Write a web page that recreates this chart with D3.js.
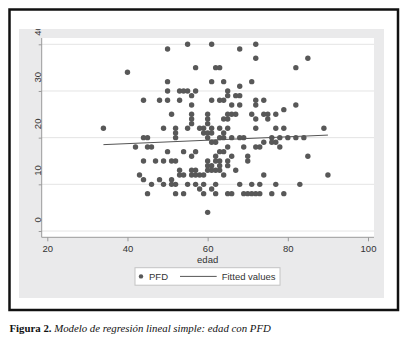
<!DOCTYPE html>
<html>
<head>
<meta charset="utf-8">
<script src="https://cdn.jsdelivr.net/npm/d3@7"></script>
<style>
  body { margin: 0; background: #fff; }
  svg { display: block; font-family: "Liberation Sans", Arial, sans-serif; }
  .tick text { fill: #333; }
</style>
</head>
<body>
<svg id="chart" width="405" height="338"></svg>
<script>
// PFD values, one entry per point, grouped by row
const pfd = [
  40, 40, 40,
  39, 39,
  37, 37,
  35, 35, 35, 35,
  34,
  32, 32, 32, 32,
  31,
  30, 30, 30, 30, 30, 30,
  29, 29, 29, 29,
  28, 28, 28, 28, 28, 28, 28, 28, 28,
  27, 27, 27, 27, 27,
  26,
  25, 25, 25, 25, 25, 25, 25, 25, 25, 25,
  24, 24, 24, 24, 24, 24,
  23, 23,
  22, 22, 22, 22, 22, 22, 22, 22, 22, 22, 22, 22, 22,
  21, 21, 21, 21, 21,
  20, 20, 20, 20, 20, 20, 20, 20, 20, 20, 20, 20, 20, 20,
  19, 19, 19, 19, 19,
  18, 18, 18, 18, 18, 18, 18, 18,
  17, 17, 17, 17, 17,
  16, 16, 16, 16, 16,
  15, 15, 15, 15, 15, 15, 15, 15, 15, 15,
  14, 14, 14, 14,
  13, 13, 13, 13, 13, 13, 13, 13,
  12, 12, 12, 12, 12, 12, 12, 12, 12, 12,
  11, 11, 11,
  10, 10, 10, 10, 10, 10, 10, 10, 10, 10, 10, 10, 10,
  9, 9,
  8, 8, 8, 8, 8, 8, 8, 8, 8, 8, 8, 8, 8, 8,
  4
];
// edad of each point, same order as pfd
const edad = [
  55, 61, 72,
  50, 68,
  72, 85,
  57, 62, 63, 82,
  40,
  50, 61, 64, 71,
  68,
  50, 53, 54, 55, 57, 65,
  56, 65, 67, 68,
  44, 48, 50, 53, 61, 63, 64, 72, 74,
  56, 66, 68, 72, 82,
  79,
  51, 56, 60, 65, 66, 67, 71, 74, 75, 77,
  56, 60, 64, 65, 72, 75,
  56, 60,
  34, 49, 52, 55, 58, 59, 61, 63, 65, 72, 77, 79, 89,
  52, 59, 60, 61, 64,
  44, 45, 52, 60, 63, 64, 66, 68, 69, 76, 78, 80, 82, 84,
  61, 62, 74, 76, 77,
  42, 45, 46, 65, 69, 72, 73, 78,
  50, 54, 57, 63, 64,
  56, 62, 66, 70, 85,
  44, 47, 49, 51, 52, 60, 62, 63, 65, 70,
  60, 61, 63, 65,
  53, 56, 57, 60, 61, 62, 63, 67,
  43, 53, 54, 56, 57, 58, 59, 64, 74, 90,
  44, 48, 51,
  46, 49, 51, 52, 55, 57, 59, 62, 68, 71, 73, 77, 83,
  58, 61,
  45, 52, 54, 59, 62, 65, 66, 69, 70, 71, 72, 73, 76, 79,
  60
];
// fitted regression line end points
const fitEdad = [34, 90];
const fitPfd = [18.5, 20.55];

const xTicks = [20, 40, 60, 80, 100];
const yTicks = [0, 10, 20, 30, 40];

let svg = d3.select("#chart");

// outer frame and graph region
svg.append("rect")
    .attr("x", 9.5).attr("y", 9.5)
    .attr("width", 388.5).attr("height", 300.5)
    .attr("fill", "#fff")
    .attr("stroke", "#111")
    .attr("stroke-width", 2.5);

svg.append("clipPath").attr("id", "region")
  .append("rect")
    .attr("x", 19).attr("y", 29)
    .attr("width", 365).attr("height", 269);

let region = svg.append("g").attr("clip-path", "url(#region)");
region.append("rect")
    .attr("x", 19).attr("y", 29)
    .attr("width", 365).attr("height", 269)
    .attr("fill", "#eaeaeb");

// plot area
region.append("rect")
    .attr("x", 41.7).attr("y", 38)
    .attr("width", 332.3).attr("height", 199.3)
    .attr("fill", "#fff");

let xScale = d3.scaleLinear().domain([20, 100]).range([47.3, 368]);
let yScale = d3.scaleLinear().domain([0, 40]).range([231, 44.3]);

// gridlines
region.append("g")
    .selectAll("line")
    .data(yTicks)
    .enter()
    .append("line")
    .attr("x1", 41.7).attr("x2", 374)
    .attr("y1", (d) => yScale(d)).attr("y2", (d) => yScale(d))
    .attr("stroke", "#e4e4e4")
    .attr("stroke-width", 1);

// x axis
let xAxis = d3.axisBottom(xScale)
    .tickValues(xTicks)
    .tickSize(4)
    .tickPadding(4)
    .tickFormat(d3.format("d"));
let gx = region.append("g")
    .attr("transform", "translate(0, 237.3)")
    .call(xAxis);
gx.select(".domain").attr("d", "M41.7,0H374").attr("stroke", "#9a9a9a");
gx.selectAll(".tick line").attr("stroke", "#9a9a9a");
gx.selectAll(".tick text").style("font-size", "9.5px");

// y axis (labels drawn by hand below, rotated)
let yAxis = d3.axisLeft(yScale)
    .tickValues(yTicks)
    .tickSize(3)
    .tickFormat("");
let gy = region.append("g")
    .attr("transform", "translate(41.7, 0)")
    .call(yAxis);
gy.select(".domain").attr("d", "M0,38V237.3").attr("stroke", "#9a9a9a");
gy.selectAll(".tick line").attr("stroke", "#9a9a9a");

region.append("g")
    .selectAll("text")
    .data(yTicks)
    .enter()
    .append("text")
    .attr("transform", (d) => "translate(41, " + (yScale(d) - 8.5) + ") rotate(-90)")
    .attr("text-anchor", "start")
    .style("font-size", "9.5px")
    .attr("fill", "#333")
    .text((d) => d);

// axis title
region.append("text")
    .attr("x", xScale(60)).attr("y", 263)
    .attr("text-anchor", "middle")
    .style("font-size", "9.5px")
    .attr("fill", "#333")
    .text("edad");

// points
region.append("g")
    .selectAll("circle")
    .data(pfd)
    .enter()
    .append("circle")
    .attr("cx", (d, i) => xScale(edad[i]))
    .attr("cy", (d) => yScale(d))
    .attr("r", 2.7)
    .attr("fill", "#585858");

// fitted line
let line = d3.line()
    .x((d, i) => xScale(fitEdad[i]))
    .y((d) => yScale(d));
region.append("path")
    .attr("d", line(fitPfd))
    .attr("fill", "none")
    .attr("stroke", "#555")
    .attr("stroke-width", 1);

// legend
let legend = region.append("g");
legend.append("rect")
    .attr("x", 135).attr("y", 267.7)
    .attr("width", 145).attr("height", 17.5)
    .attr("fill", "#fff")
    .attr("stroke", "#c4c4c4");
legend.append("circle")
    .attr("cx", 141).attr("cy", 276.4).attr("r", 2.2)
    .attr("fill", "#585858");
legend.append("text")
    .attr("x", 149).attr("y", 280)
    .style("font-size", "9.5px").attr("fill", "#333")
    .text("PFD");
legend.append("line")
    .attr("x1", 180).attr("x2", 216.7)
    .attr("y1", 276.4).attr("y2", 276.4)
    .attr("stroke", "#555");
legend.append("text")
    .attr("x", 221.7).attr("y", 280)
    .style("font-size", "9.5px").attr("fill", "#333")
    .text("Fitted values");

// caption below the frame
let caption = svg.append("text")
    .attr("x", 9.5).attr("y", 332)
    .style("font-family", "'Liberation Serif', 'Times New Roman', serif")
    .style("font-size", "10.8px")
    .attr("fill", "#111");
caption.append("tspan").style("font-weight", "bold").text("Figura 2. ");
caption.append("tspan").style("font-style", "italic")
    .text("Modelo de regresión lineal simple: edad con PFD");
</script>
</body>
</html>
